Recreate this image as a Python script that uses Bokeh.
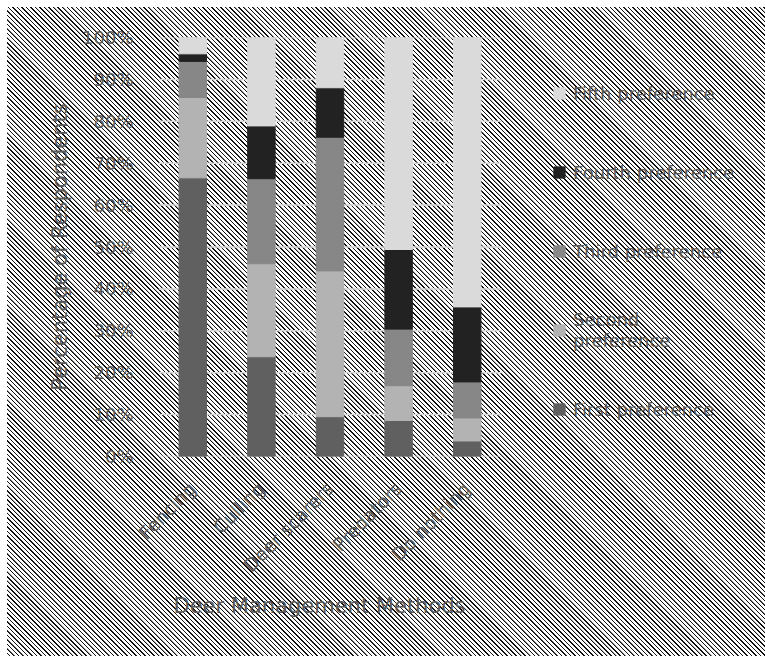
import math
from bokeh.plotting import figure
from bokeh.models import (ColumnDataSource, FixedTicker, PrintfTickFormatter,
                          Legend, LegendItem, Range1d, Title)
from bokeh.embed import file_html
from bokeh.resources import INLINE

methods = ["Fencing", "Culling", "Deer scarers", "Predators", "Do nothing"]
first = [66.5, 23.8, 9.5, 8.6, 3.7]
second = [19.2, 22.2, 34.8, 8.3, 5.5]
third = [8.6, 20.3, 31.9, 13.5, 8.6]
fourth = [1.8, 12.6, 11.8, 19.0, 17.9]
fifth = [3.9, 21.1, 12.0, 50.6, 64.3]
series_keys = ["first", "second", "third", "fourth", "fifth"]
series_names = ["First preference", "Second\npreference", "Third preference",
                "Fourth preference", "Fifth preference"]
colors = ["#606060", "#b3b3b3", "#878787", "#222222", "#dadada"]
y_ticks = [0, 10, 20, 30, 40, 50, 60, 70, 80, 90, 100]

FONT = "DejaVu Sans"
TXT = "#595959"
W, H = 765, 656
LEFT, TOP, BOTTOM = 158, 37, 200
PLOT_AREA_W = 343  # width of the category area (px)

n = len(methods)
xs = list(range(n))
source = ColumnDataSource(dict(x=xs, first=first, second=second,
                               third=third, fourth=fourth, fifth=fifth))

frame_w = W - LEFT
x_end = -0.5 + n * frame_w / PLOT_AREA_W

p = figure(width=W, height=H, x_range=Range1d(-0.5, x_end),
           y_range=Range1d(0, 100), output_backend="svg", toolbar_location=None,
           min_border_left=LEFT, min_border_right=0, min_border_top=TOP,
           min_border_bottom=BOTTOM)

p.background_fill_color = None
p.border_fill_color = None
p.outline_line_color = None
p.styles = {
    "background": ("linear-gradient(#fff, #fff) 0 0 / 100% 7px no-repeat, "
                   "linear-gradient(#fff, #fff) 0 0 / 7px 100% no-repeat, "
                   "repeating-linear-gradient(45deg, #111 0px, #111 0.9px, "
                   "#fff 1.2px, #fff 3.2px)"),
}

# horizontal gridlines limited to the category area
p.segment(x0=[-0.5] * len(y_ticks), x1=[n - 0.5] * len(y_ticks),
          y0=y_ticks, y1=y_ticks, line_color="#d9d9d9", line_width=1.5)

renderers = p.vbar_stack(series_keys, x="x", width=0.4, color=colors,
                         source=source)

p.xgrid.grid_line_color = None
p.ygrid.grid_line_color = None

xa = p.xaxis[0]
xa.ticker = FixedTicker(ticks=xs)
xa.major_label_overrides = {i: m for i, m in enumerate(methods)}
xa.major_label_orientation = math.pi / 4
xa.major_label_text_font = FONT
xa.major_label_text_font_size = "18.5px"
xa.major_label_text_color = TXT
xa.major_label_standoff = 29
xa.major_tick_out = 0
xa.major_tick_in = 0
xa.minor_tick_out = 0
xa.axis_line_color = None
xa.major_tick_line_color = None
xa.minor_tick_line_color = None

p.add_layout(Title(text="Deer Management Methods", align="left", offset=15,
                   text_font=FONT, text_font_size="21px",
                   text_font_style="normal", text_color=TXT), "below")

ya = p.yaxis[0]
ya.ticker = FixedTicker(ticks=y_ticks)
ya.formatter = PrintfTickFormatter(format="%d%%")
ya.axis_label = "Percentage of Respondents"
ya.axis_label_text_font = FONT
ya.axis_label_text_font_size = "21px"
ya.axis_label_text_font_style = "normal"
ya.axis_label_text_color = TXT
ya.axis_label_standoff = 7
ya.major_label_text_font = FONT
ya.major_label_text_font_size = "18px"
ya.major_label_text_color = TXT
ya.major_label_standoff = 25
ya.major_tick_out = 0
ya.major_tick_in = 0
ya.minor_tick_out = 0
ya.axis_line_color = None
ya.major_tick_line_color = None
ya.minor_tick_line_color = None

items = [LegendItem(label=series_names[i], renderers=[renderers[i]])
         for i in range(4, -1, -1)]
legend = Legend(items=items, location=(394, 25), glyph_width=14, glyph_height=14,
                label_standoff=7, spacing=35, label_height=44, padding=0, margin=0,
                border_line_color=None, background_fill_alpha=0,
                label_text_font=FONT, label_text_font_size="18px",
                label_text_color=TXT)
p.add_layout(legend)

open("out.html", "w").write(file_html(p, INLINE))
